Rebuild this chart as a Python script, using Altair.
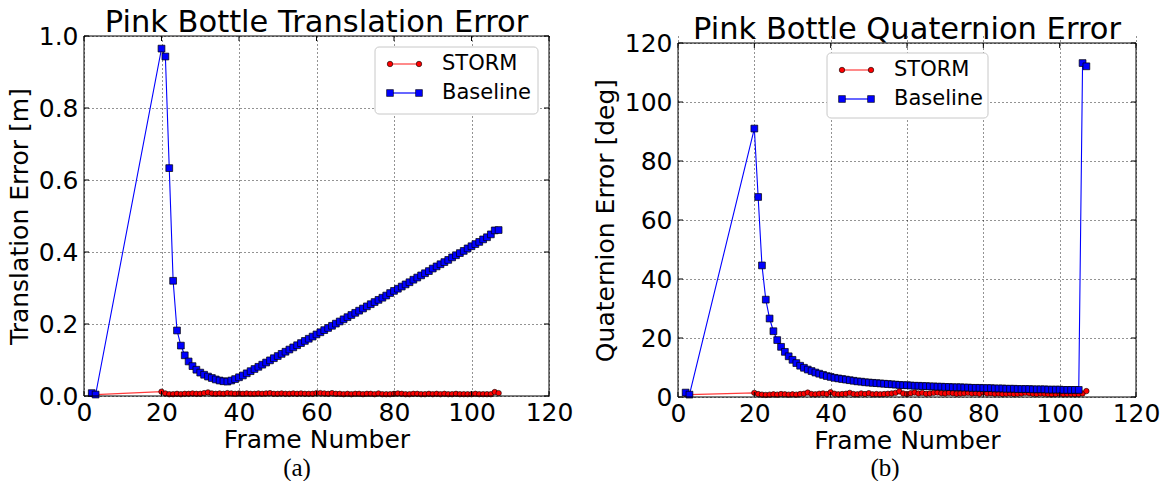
import altair as alt
import pandas as pd

# Frame indices shared by every series
frames = [2, 3,
          20, 21, 22, 23, 24, 25, 26, 27, 28, 29,
          30, 31, 32, 33, 34, 35, 36, 37, 38, 39,
          40, 41, 42, 43, 44, 45, 46, 47, 48, 49,
          50, 51, 52, 53, 54, 55, 56, 57, 58, 59,
          60, 61, 62, 63, 64, 65, 66, 67, 68, 69,
          70, 71, 72, 73, 74, 75, 76, 77, 78, 79,
          80, 81, 82, 83, 84, 85, 86, 87, 88, 89,
          90, 91, 92, 93, 94, 95, 96, 97, 98, 99,
          100, 101, 102, 103, 104, 105, 106, 107]

# Translation error [m]
storm_trans = [0.006, 0.004,
               0.012, 0.007, 0.005, 0.005, 0.006, 0.005, 0.006, 0.006, 0.007, 0.006,
               0.006, 0.008, 0.010, 0.007, 0.006, 0.007, 0.006, 0.008, 0.007, 0.006,
               0.007, 0.006, 0.007, 0.006, 0.006, 0.007, 0.006, 0.007, 0.008, 0.006,
               0.006, 0.007, 0.006, 0.006, 0.007, 0.006, 0.007, 0.006, 0.006, 0.006,
               0.008, 0.008, 0.007, 0.006, 0.008, 0.006, 0.006, 0.005, 0.006, 0.005,
               0.006, 0.006, 0.005, 0.006, 0.006, 0.005, 0.007, 0.005, 0.005, 0.005,
               0.006, 0.007, 0.006, 0.005, 0.005, 0.006, 0.006, 0.005, 0.005, 0.006,
               0.005, 0.006, 0.005, 0.006, 0.005, 0.005, 0.006, 0.005, 0.005, 0.005,
               0.005, 0.006, 0.005, 0.005, 0.005, 0.005, 0.011, 0.008]
base_trans = [0.008, 0.004,
              0.965, 0.943, 0.633, 0.320, 0.182, 0.140, 0.113, 0.096, 0.083, 0.073,
              0.065, 0.059, 0.054, 0.050, 0.046, 0.043, 0.041, 0.040, 0.043, 0.047,
              0.052, 0.057, 0.063, 0.069, 0.075, 0.081, 0.087, 0.093, 0.099, 0.105,
              0.111, 0.117, 0.123, 0.129, 0.135, 0.141, 0.147, 0.153, 0.159, 0.165,
              0.171, 0.177, 0.183, 0.189, 0.195, 0.201, 0.207, 0.213, 0.219, 0.225,
              0.231, 0.237, 0.243, 0.249, 0.255, 0.261, 0.267, 0.273, 0.279, 0.286,
              0.292, 0.298, 0.304, 0.310, 0.316, 0.323, 0.329, 0.335, 0.341, 0.347,
              0.354, 0.360, 0.366, 0.372, 0.378, 0.385, 0.391, 0.397, 0.403, 0.410,
              0.416, 0.422, 0.428, 0.435, 0.441, 0.449, 0.460, 0.461]

# Quaternion error [deg]
storm_quat = [1.0, 0.8,
              1.4, 1.0, 0.8, 0.7, 0.8, 0.9, 0.8, 1.0, 0.9, 0.8,
              0.9, 0.8, 1.0, 1.1, 1.5, 1.0, 0.9, 1.1, 1.2, 1.0,
              1.6, 1.1, 0.9, 1.0, 1.1, 1.4, 1.0, 0.9, 1.2, 1.0,
              1.3, 0.9, 1.0, 0.9, 1.0, 1.1, 1.2, 1.4, 1.9, 1.2,
              1.0, 1.3, 1.5, 1.2, 1.4, 1.1, 1.2, 1.4, 1.5, 1.3,
              1.2, 1.4, 1.3, 1.1, 1.2, 1.3, 1.4, 1.2, 1.3, 1.1,
              1.5, 1.2, 1.3, 1.1, 1.2, 1.0, 1.1, 1.2, 1.0, 1.1,
              1.2, 1.4, 1.3, 1.1, 1.0, 1.2, 1.1, 1.0, 0.9, 1.0,
              1.1, 0.9, 1.0, 1.0, 0.9, 1.0, 1.2, 2.0]
base_quat = [1.5, 0.8,
             91.0, 67.8, 44.6, 33.0, 26.6, 22.3, 19.3, 17.0, 15.3, 13.8,
             12.6, 11.5, 10.6, 9.9, 9.3, 8.8, 8.3, 7.9, 7.5, 7.1,
             6.8, 6.5, 6.3, 6.1, 5.9, 5.7, 5.5, 5.3, 5.2, 5.0,
             4.9, 4.8, 4.7, 4.6, 4.5, 4.4, 4.3, 4.2, 4.1, 4.0,
             4.0, 3.9, 3.8, 3.8, 3.7, 3.7, 3.6, 3.6, 3.5, 3.5,
             3.4, 3.4, 3.3, 3.3, 3.3, 3.2, 3.2, 3.1, 3.1, 3.1,
             3.0, 3.0, 3.0, 2.9, 2.9, 2.9, 2.8, 2.8, 2.8, 2.7,
             2.7, 2.7, 2.7, 2.6, 2.6, 2.6, 2.6, 2.5, 2.5, 2.5,
             2.5, 2.4, 2.4, 2.4, 2.4, 2.4, 113.2, 112.1]

series_names = ["STORM", "Baseline"]
x_ticks = [0, 20, 40, 60, 80, 100, 120]
trans_ticks = [0.0, 0.2, 0.4, 0.6, 0.8, 1.0]
quat_ticks = [0, 20, 40, 60, 80, 100, 120]

FONT = "DejaVu Sans"
STORM_FILL = "#ff0000"
STORM_LINE = "#ff3b3b"
BASE_FILL = "#0000ff"
BASE_LINE = "#0000ff"

one_row = pd.DataFrame({"k": [0]})


def panel(storm, base, y_title, y_ticks, y_max, y_fmt, title, caption,
          w, h, top, lg_x, lg_y, lg_w, lg_h, cap_x, cap_y, head_room):
    """One framed panel; the frame spans y = top .. h inside the view."""
    n = len(frames)
    df = pd.DataFrame({
        "frame": frames * 2,
        "err": storm + base,
        "series": [series_names[0]] * n + [series_names[1]] * n,
    })
    x = alt.X("frame:Q",
              scale=alt.Scale(domain=[0, 120], nice=False, zero=False),
              axis=alt.Axis(values=x_ticks, title="Frame Number", format="d"))
    y = alt.Y("err:Q",
              scale=alt.Scale(domain=[0, y_max], nice=False, range=[h, top]),
              axis=alt.Axis(values=y_ticks, title=y_title, format=y_fmt))

    base_chart = alt.Chart(df).encode(x=x, y=y)
    storm_sel = alt.datum.series == series_names[0]
    base_sel = alt.datum.series == series_names[1]

    layers = [
        # blank strip that sets the space kept above the panel
        alt.Chart(one_row).mark_rule(color="white", strokeWidth=1).encode(
            x=alt.value(0), x2=alt.value(1), y=alt.value(-head_room)),
        base_chart.transform_filter(storm_sel).mark_line(
            color=STORM_LINE, strokeWidth=1.2),
        base_chart.transform_filter(storm_sel).mark_point(
            shape="circle", filled=True, fill=STORM_FILL, stroke="black",
            strokeWidth=0.6, size=30, opacity=1),
        base_chart.transform_filter(base_sel).mark_line(
            color=BASE_LINE, strokeWidth=1.1),
        base_chart.transform_filter(base_sel).mark_point(
            shape="square", filled=True, fill=BASE_FILL, stroke="black",
            strokeWidth=0.7, size=46, opacity=1),
    ]

    # frame and inward tick marks on all four sides
    xt = pd.DataFrame({"frame": x_ticks})
    yt = pd.DataFrame({"err": y_ticks})
    layers += [
        alt.Chart(one_row).mark_rect(
            fillOpacity=0, stroke="black", strokeWidth=1
        ).encode(x=alt.value(0), x2=alt.value(w),
                 y=alt.value(top), y2=alt.value(h)),
        alt.Chart(xt).mark_rule(color="black", strokeWidth=1).encode(
            x=x, y=alt.value(h), y2=alt.value(h - 5)),
        alt.Chart(xt).mark_rule(color="black", strokeWidth=1).encode(
            x=x, y=alt.value(top), y2=alt.value(top + 5)),
        alt.Chart(yt).mark_rule(color="black", strokeWidth=1).encode(
            y=y, x=alt.value(0), x2=alt.value(5)),
        alt.Chart(yt).mark_rule(color="black", strokeWidth=1).encode(
            y=y, x=alt.value(w - 5), x2=alt.value(w)),
    ]

    # legend box
    layers.append(
        alt.Chart(one_row).mark_rect(
            fill="white", stroke="#c8c8c8", strokeWidth=1, cornerRadius=4
        ).encode(x=alt.value(lg_x), x2=alt.value(lg_x + lg_w),
                 y=alt.value(lg_y), y2=alt.value(lg_y + lg_h))
    )
    rows = [
        (series_names[0], lg_y + 17, STORM_LINE, STORM_FILL, "circle", 30),
        (series_names[1], lg_y + 46, BASE_LINE, BASE_FILL, "square", 46),
    ]
    for label, ry, lcol, fcol, shape, size in rows:
        layers.append(
            alt.Chart(one_row).mark_rule(color=lcol, strokeWidth=1.2).encode(
                x=alt.value(lg_x + 15), x2=alt.value(lg_x + 44), y=alt.value(ry))
        )
        for mx in (lg_x + 15, lg_x + 44):
            layers.append(
                alt.Chart(one_row).mark_point(
                    shape=shape, filled=True, fill=fcol, stroke="black",
                    strokeWidth=0.6, size=size, opacity=1
                ).encode(x=alt.value(mx), y=alt.value(ry))
            )
        layers.append(
            alt.Chart(one_row).mark_text(
                align="left", baseline="middle", font=FONT, fontSize=21,
                color="black"
            ).encode(x=alt.value(lg_x + 67), y=alt.value(ry), text=alt.value(label))
        )

    # panel title and sub-caption
    layers.append(
        alt.Chart(one_row).mark_text(
            align="center", baseline="alphabetic", font=FONT, fontSize=30.5,
            color="black"
        ).encode(x=alt.value(w / 2), y=alt.value(top - 4), text=alt.value(title))
    )
    layers.append(
        alt.Chart(one_row).mark_text(
            align="center", baseline="middle", font="Liberation Serif",
            fontSize=25, color="black"
        ).encode(x=alt.value(cap_x), y=alt.value(cap_y), text=alt.value(caption))
    )

    return alt.layer(*layers).properties(width=w, height=h)


left = panel(storm_trans, base_trans, "Translation Error [m]", trans_ticks, 1.0,
             ".1f", "Pink Bottle Translation Error", "(a)",
             465, 360, 0, 291, 11, 163, 67, 213, 432, 35.5)
right = panel(storm_quat, base_quat, "Quaternion Error [deg]", quat_ticks, 120,
              "d", "Pink Bottle Quaternion Error", "(b)",
              458, 361, 7, 149, 17, 161, 65, 207, 432, 35.5)

chart = alt.hconcat(left, right, spacing=20).properties(
    padding={"left": 7, "top": 0, "right": 0, "bottom": 0}
).configure_view(
    strokeOpacity=0
).configure_axis(
    labelFont=FONT, labelFontSize=25, labelColor="black", labelFlush=False,
    titleFont=FONT, titleFontSize=25, titleFontWeight="normal", titleColor="black",
    domain=False, ticks=False, tickSize=0,
    grid=True, gridColor="black", gridDash=[1, 3], gridWidth=1, gridOpacity=0.85,
).configure_axisX(
    labelPadding=4, titlePadding=2
).configure_axisY(
    labelPadding=6, titlePadding=6
)

chart.save("out.html", embed_options={"renderer": "svg", "actions": False})
